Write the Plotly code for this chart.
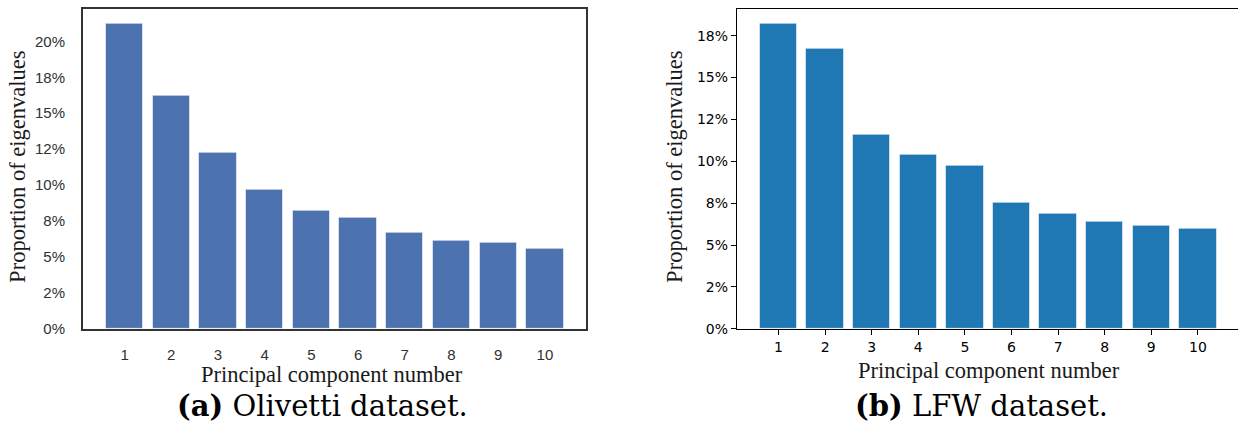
import plotly.graph_objects as go

# Principal components 1..10 and the share of total variance each explains (%)
components = [1, 2, 3, 4, 5, 6, 7, 8, 9, 10]
olivetti_share = [21.2, 16.22, 12.22, 9.65, 8.19, 7.69, 6.71, 6.12, 6.01, 5.58]
lfw_share = [18.2, 16.73, 11.59, 10.4, 9.75, 7.55, 6.89, 6.40, 6.14, 5.97]

# y ticks every 2.5 %, labelled with whole percentages
olivetti_ticks = [0, 2.5, 5, 7.5, 10, 12.5, 15, 17.5, 20]
olivetti_ticktext = ["0%", "2%", "5%", "8%", "10%", "12%", "15%", "18%", "20%"]
lfw_ticks = [0, 2.5, 5, 7.5, 10, 12.5, 15, 17.5]
lfw_ticktext = ["0%", "2%", "5%", "8%", "10%", "12%", "15%", "18%"]

W, H = 1238, 436


def px_x(p):
    return p / W


def px_y(p):
    return 1 - p / H


fig = go.Figure()

fig.add_trace(go.Bar(
    x=components, y=olivetti_share, width=0.8,
    marker=dict(color="#4C72B0", line=dict(color="rgba(255,255,255,0.55)", width=1)),
    xaxis="x", yaxis="y", showlegend=False,
))
fig.add_trace(go.Bar(
    x=components, y=lfw_share, width=0.8,
    marker=dict(color="#1F77B4", line=dict(color="rgba(255,255,255,0.55)", width=1)),
    xaxis="x2", yaxis="y2", showlegend=False,
))

sans_grey = dict(family="Liberation Sans, Arial", size=15, color="#303030")
dejavu = dict(family="DejaVu Sans", size=14, color="#000000")
serif = "Liberation Serif, Times New Roman"

fig.update_layout(
    width=W, height=H,
    margin=dict(l=0, r=0, t=0, b=0),
    paper_bgcolor="white", plot_bgcolor="white",
    bargap=0,
    xaxis=dict(
        domain=[px_x(83), px_x(586)], range=[0.11, 10.88],
        tickvals=components, ticktext=[str(c) for c in components],
        tickfont=sans_grey, ticks="", ticklabelstandoff=11,
        showgrid=False, zeroline=False,
        showline=True, mirror=True, linecolor="#333333", linewidth=2,
        anchor="y",
    ),
    yaxis=dict(
        domain=[px_y(335), px_y(9)], range=[0, 22.26],
        tickvals=olivetti_ticks, ticktext=olivetti_ticktext,
        tickfont=sans_grey, ticks="", ticklabelstandoff=13,
        showgrid=False, zeroline=False,
        showline=True, mirror=True, linecolor="#333333", linewidth=2,
        anchor="x",
    ),
    xaxis2=dict(
        domain=[px_x(737), 1.0], range=[0.11, 10.86],
        tickvals=components, ticktext=[str(c) for c in components],
        tickfont=dejavu, ticks="outside", ticklen=5, tickwidth=1.2, tickcolor="#000",
        showgrid=False, zeroline=False,
        showline=True, mirror=True, linecolor="#000000", linewidth=1.3,
        anchor="y2",
    ),
    yaxis2=dict(
        domain=[px_y(335), px_y(9)], range=[0, 19.1],
        tickvals=lfw_ticks, ticktext=lfw_ticktext,
        tickfont=dejavu, ticks="outside", ticklen=5, tickwidth=1.2, tickcolor="#000",
        showgrid=False, zeroline=False,
        showline=True, mirror=False, linecolor="#000000", linewidth=1.3,
        anchor="x2",
    ),
)

title_font = dict(family=serif, size=22.5, color="#1a1a1a")
caption_font = dict(family="DejaVu Serif", size=29, color="#000000")

annotations = [
    # axis titles, left panel
    dict(text="Proportion of eigenvalues", x=px_x(18), y=px_y(170), textangle=-90,
         font=title_font),
    dict(text="Principal component number", x=px_x(332), y=px_y(381), font=title_font),
    dict(text="<b>(a)</b> Olivetti dataset.", x=px_x(322), y=px_y(414), font=caption_font),
    # axis titles, right panel
    dict(text="Proportion of eigenvalues", x=px_x(675), y=px_y(170), textangle=-90,
         font=title_font),
    dict(text="Principal component number", x=px_x(989), y=px_y(377), font=title_font),
    dict(text="<b>(b)</b> LFW dataset.", x=px_x(981), y=px_y(414), font=caption_font),
]
for a in annotations:
    a.update(xref="paper", yref="paper", showarrow=False, xanchor="center", yanchor="middle")
fig.update_layout(annotations=annotations)

fig.write_html("out.html")
